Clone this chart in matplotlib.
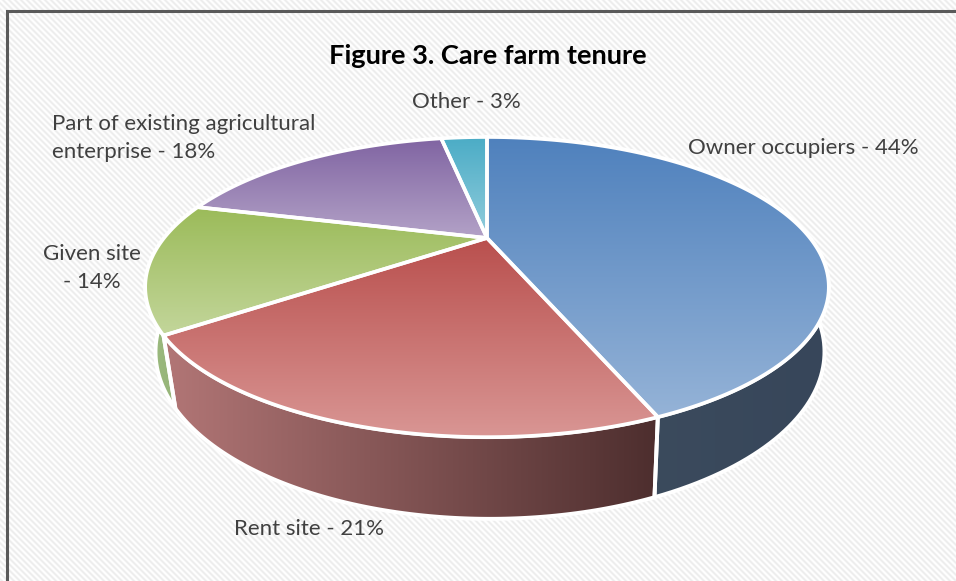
import numpy as np
import matplotlib
matplotlib.use('Agg')
import matplotlib.pyplot as plt
from matplotlib.colors import to_rgb
from matplotlib.patches import Polygon

title = 'Figure 3. Care farm tenure'
names = ['Owner occupiers', 'Rent site', 'Given site', 'Part of existing agricultural\nenterprise', 'Other']
values = [44, 21, 14, 18, 3]
separators = [' ', ' ', '\n', ' ', ' ']

top_colors = [('#4f81bd', '#95b3d7'), ('#b94f4d', '#d99694'), ('#9bbb59', '#c3d69b'),
              ('#8064a2', '#b3a2c7'), ('#4bacc6', '#92cddc')]
side_colors = [('#3f4f60', '#37465a'), ('#b27676', '#4d2e2e'), ('#9dbb80', '#8fae72'),
               ('#6b5585', '#6b5585'), ('#3b8ea5', '#3b8ea5')]
label_pos = [(803, 148, 'center'), (309, 529, 'center'), (92, 268, 'center'),
             (52, 138, 'left'), (466, 102, 'center')]


def rim(theta, cx, cy, a, b, k):
    # circle seen in perspective, theta runs clockwise from the far point
    u, v = np.sin(theta), np.cos(theta)
    w = 1 + k * v
    return np.column_stack([cx + a * u / w, cy - b * v / w])


def upper(theta):
    return rim(theta, 487, 238, 323, 134, 0.327)


def lower(theta):
    return rim(theta, 490, 300, 318, 151, 0.31)


def fill_gradient(ax, verts, colors, horizontal=False, zorder=2):
    c0, c1 = np.array(to_rgb(colors[0])), np.array(to_rgb(colors[1]))
    t = np.linspace(0, 1, 256)[:, None]
    grad = c0 * (1 - t) + c1 * t
    grad = grad[None, :, :] if horizontal else grad[:, None, :]
    x0, y0 = verts.min(axis=0)
    x1, y1 = verts.max(axis=0)
    im = ax.imshow(grad, extent=(x0, x1, y1, y0), aspect='auto', interpolation='bilinear', zorder=zorder)
    patch = Polygon(verts, closed=True, transform=ax.transData, facecolor='none', edgecolor='none')
    ax.add_patch(patch)
    im.set_clip_path(patch)


fig = plt.figure(figsize=(9.56, 5.81), dpi=100)
ax = fig.add_axes([0, 0, 1, 1])
ax.axis('off')

# striped chart background
yy, xx = np.mgrid[0:581, 0:956]
stripes = 0.5 + 0.5 * np.cos(2 * np.pi * (xx - yy) / 6.0)
ax.imshow(236 + 19 * stripes, cmap='gray', vmin=0, vmax=255, extent=(0, 956, 581, 0),
          aspect='auto', interpolation='nearest', zorder=0)

# chart frame, only the top and left edges are in view
ax.plot([7, 7, 956], [581, 11, 11], color='#5a5a5a', lw=2.2, zorder=1, solid_joinstyle='miter')

edges = np.cumsum([0] + values) / sum(values) * 2 * np.pi

# side walls first, the top surface covers whatever faces away
for i in [2, 0, 1]:
    t = np.linspace(edges[i], edges[i + 1], 120)
    verts = np.vstack([upper(t), lower(t[::-1])])
    fill_gradient(ax, verts, side_colors[i], horizontal=True, zorder=2)
    ax.add_patch(Polygon(verts, closed=True, facecolor='none', edgecolor='white', lw=2.8, zorder=3))

for i in range(len(values)):
    t = np.linspace(edges[i], edges[i + 1], 160)
    verts = np.vstack([[[487, 238]], upper(t)])
    fill_gradient(ax, verts, top_colors[i], zorder=4)
    ax.add_patch(Polygon(verts, closed=True, facecolor='none', edgecolor='white', lw=2.6,
                         joinstyle='round', zorder=5))

ax.text(488, 56, title, ha='center', va='center', fontsize=19.6, fontweight='bold',
        family='Lato', color='black', zorder=6)

for name, sep, value, (x, y, ha) in zip(names, separators, values, label_pos):
    ax.text(x, y, f'{name}{sep}- {value}%', ha=ha, va='center', multialignment=ha, fontsize=16,
            family='Lato', color='#404040', linespacing=1.55, zorder=6)

ax.set_xlim(0, 956)
ax.set_ylim(581, 0)
fig.savefig('out.png', dpi=100)
